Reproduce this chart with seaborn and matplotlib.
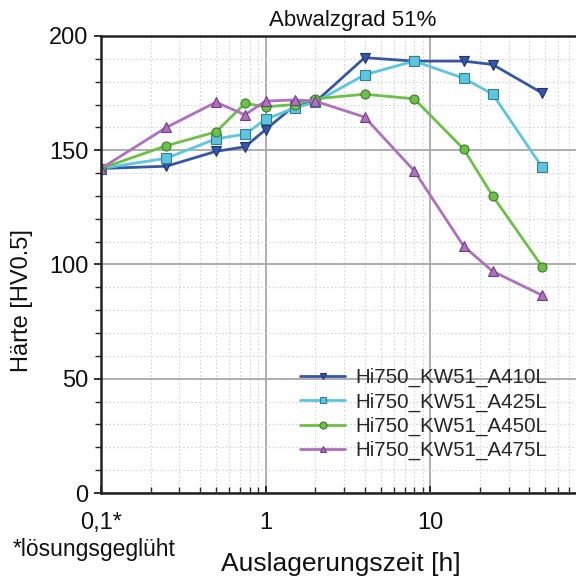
import matplotlib
matplotlib.use("Agg")
import matplotlib.pyplot as plt
from matplotlib.ticker import FixedLocator, MultipleLocator, NullFormatter
import seaborn as sns
import pandas as pd

sns.set_theme(style="white")
plt.rcParams['font.family'] = ['Liberation Sans', 'DejaVu Sans']

times = [0.1, 0.25, 0.5, 0.75, 1, 1.5, 2, 4, 8, 16, 24, 48]
a410 = [142, 143, 149.5, 151.5, 159, 169.5, 171, 190.5, 189, 189, 187.5, 175]
a425 = [142, 146.5, 155, 157, 163.5, 168.5, 171, 183, 189, 181.5, 174.5, 142.5]
a450 = [142, 152, 158, 170.5, 169, 170, 172.5, 174.5, 172.5, 150.5, 130, 99]
a475 = [142, 160, 171, 165.5, 171.5, 172, 171.5, 164.5, 141, 108, 97, 86.5]
names = ["Hi750_KW51_A410L", "Hi750_KW51_A425L", "Hi750_KW51_A450L", "Hi750_KW51_A475L"]
series = [a410, a425, a450, a475]
colors = ["#3656a8", "#5cc6de", "#6cc048", "#b06fbf"]
edges = ["#1f3570", "#2f7f98", "#3d7a2a", "#6e3e7e"]
markers = ["v", "s", "o", "^"]

x_ticks = [0.1, 1, 10]
x_ticklabels = ["0,1*", "1", "10"]
y_ticks = [0, 50, 100, 150, 200]

rows = []
for n, s in zip(names, series):
    for t, v in zip(times, s):
        rows.append({"t": t, "v": v, "series": n})
df = pd.DataFrame(rows)

fig = plt.figure(figsize=(5.76, 5.80), dpi=100)
ax = fig.add_axes([0.1753, 0.15, 0.8247, 0.788])

for n, c, ec, m in zip(names, colors, edges, markers):
    sub = df[df["series"] == n]
    sns.lineplot(data=sub, x="t", y="v", ax=ax, color=c, marker=m, markersize=6.5,
                 markeredgecolor=ec, markeredgewidth=0.8, linewidth=2.0, label=n,
                 errorbar=None)

ax.set_xscale("log")
ax.set_xlim(0.1, 77)
ax.set_ylim(0, 200)

ax.xaxis.set_major_locator(FixedLocator(x_ticks))
ax.set_xticklabels(x_ticklabels)
minor_x = [k * 10**e for e in (-1, 0, 1) for k in range(2, 10)]
ax.xaxis.set_minor_locator(FixedLocator(minor_x))
ax.xaxis.set_minor_formatter(NullFormatter())
ax.yaxis.set_major_locator(FixedLocator(y_ticks))
ax.yaxis.set_minor_locator(MultipleLocator(10))

ax.grid(which="major", color="#a8a8a8", linewidth=1.3, linestyle="-")
ax.grid(which="minor", color="#d4d4d4", linewidth=0.8, linestyle=(0, (1.5, 2)))
ax.set_axisbelow(True)

for sp in ["left", "bottom", "top"]:
    ax.spines[sp].set_color("#222222")
    ax.spines[sp].set_linewidth(1.8)
ax.spines["right"].set_visible(False)

ax.tick_params(axis="both", which="major", labelsize=17, colors="#111111", length=5, width=1.2)
ax.tick_params(axis="x", which="both", direction="in", bottom=True, top=False)
ax.tick_params(axis="x", which="minor", length=4, width=1, bottom=True)
ax.tick_params(axis="y", which="both", direction="out", left=True, right=False)
ax.tick_params(axis="y", which="minor", length=4, width=1)
ax.tick_params(axis="x", which="major", pad=14)
ax.tick_params(axis="y", which="major", pad=4)

ax.set_xlabel("Auslagerungszeit [h]", fontsize=19, color="#111111")
ax.xaxis.set_label_coords(0.505, -0.128)
ax.set_ylabel("Härte [HV0.5]", fontsize=17, color="#111111")
ax.yaxis.set_label_coords(-0.143, 0.42)
ax.set_title("Abwalzgrad 51%", fontsize=16, color="#111111", pad=7, x=0.53)

fig.text(0.022, 0.052, "*lösungsgeglüht", fontsize=16.5, color="#111111", va="center")

leg = ax.legend(loc="upper left", bbox_to_anchor=(0.419, 0.2735), frameon=False,
                fontsize=14.75, handlelength=2.2, handletextpad=0.5, labelspacing=0.25,
                borderaxespad=0, borderpad=0)
for h in leg.legend_handles:
    h.set_markersize(5)

fig.savefig("out.png", dpi=100)
